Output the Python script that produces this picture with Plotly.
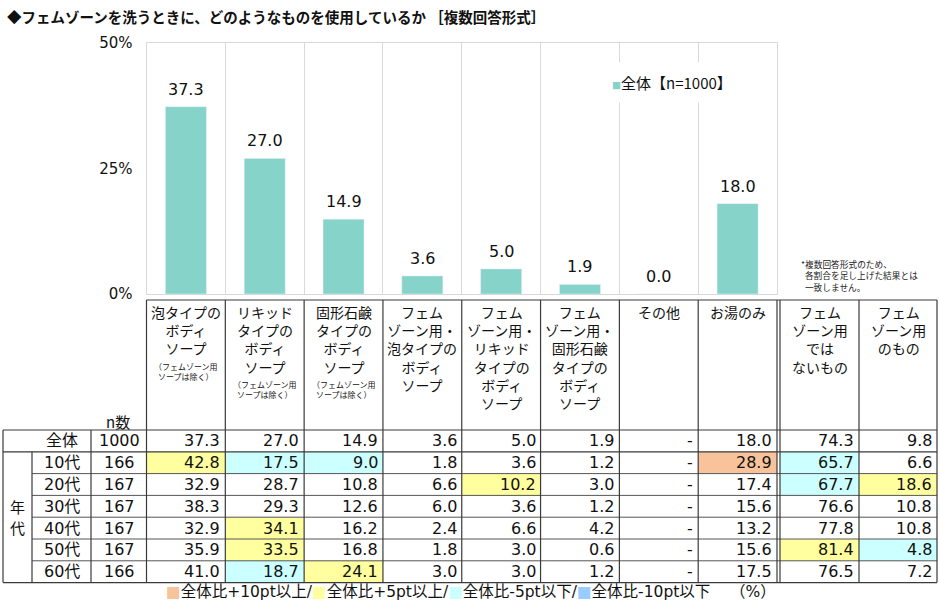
import plotly.graph_objects as go

# ---- data -------------------------------------------------------------
TITLE = "◆フェムゾーンを洗うときに、どのようなものを使用しているか ［複数回答形式］"

categories = [
    "泡タイプのボディソープ",
    "リキッドタイプのボディソープ",
    "固形石鹸タイプのボディソープ",
    "フェムゾーン用・泡タイプのボディソープ",
    "フェムゾーン用・リキッドタイプのボディソープ",
    "フェムゾーン用・固形石鹸タイプのボディソープ",
    "その他",
    "お湯のみ",
]
overall = [37.3, 27.0, 14.9, 3.6, 5.0, 1.9, 0.0, 18.0]
series_name = "全体【n=1000】"
y_ticks = [0, 25, 50]

header_main = [
    "泡タイプの<br>ボディ<br>ソープ",
    "リキッド<br>タイプの<br>ボディ<br>ソープ",
    "固形石鹸<br>タイプの<br>ボディ<br>ソープ",
    "フェム<br>ゾーン用・<br>泡タイプの<br>ボディ<br>ソープ",
    "フェム<br>ゾーン用・<br>リキッド<br>タイプの<br>ボディ<br>ソープ",
    "フェム<br>ゾーン用・<br>固形石鹸<br>タイプの<br>ボディ<br>ソープ",
    "その他",
    "お湯のみ",
    "フェム<br>ゾーン用<br>では<br>ないもの",
    "フェム<br>ゾーン用<br>のもの",
]
header_note = ["（フェムゾーン用<br>ソープは除く）"] * 3 + [""] * 7

row_labels = ["全体", "10代", "20代", "30代", "40代", "50代", "60代"]
row_n = [1000, 166, 167, 167, 167, 167, 166]
table_values = [
    [37.3, 27.0, 14.9, 3.6, 5.0, 1.9, None, 18.0, 74.3, 9.8],
    [42.8, 17.5, 9.0, 1.8, 3.6, 1.2, None, 28.9, 65.7, 6.6],
    [32.9, 28.7, 10.8, 6.6, 10.2, 3.0, None, 17.4, 67.7, 18.6],
    [38.3, 29.3, 12.6, 6.0, 3.6, 1.2, None, 15.6, 76.6, 10.8],
    [32.9, 34.1, 16.2, 2.4, 6.6, 4.2, None, 13.2, 77.8, 10.8],
    [35.9, 33.5, 16.8, 1.8, 3.0, 0.6, None, 15.6, 81.4, 4.8],
    [41.0, 18.7, 24.1, 3.0, 3.0, 1.2, None, 17.5, 76.5, 7.2],
]
group_label = ["年", "代"]
note = "*複数回答形式のため、<br>\u00a0\u00a0各割合を足し上げた結果とは<br>\u00a0\u00a0一致しません。"

key_labels = ["全体比+10pt以上", "全体比+5pt以上", "全体比-5pt以下", "全体比-10pt以下"]

# ---- style ------------------------------------------------------------
JP = "Noto Sans CJK JP"
NUM = "DejaVu Sans, Noto Sans CJK JP"
BAR = "#85D3C9"
GRID = "#D9D9D9"
EDGE = "#3A3A3A"
KEY_COLORS = ["#F8C39B", "#FFFF9F", "#CCFFFF", "#99CCFF"]

W, H = 940, 602
PLOT_L, PLOT_R, PLOT_T, PLOT_B = 146.5, 777, 43, 294
HEAD_T, TABLE_T, ROW_H = 300, 430, 21.8
TBL_L, AGE_R, LAB_R = 3, 32, 91
EXTRA = [780, 859, 937]


def highlight(v, base):
    if v is None or base is None:
        return None
    d = round(v - base, 1)
    if d >= 10:
        return KEY_COLORS[0]
    if d >= 5:
        return KEY_COLORS[1]
    if d <= -10:
        return KEY_COLORS[3]
    if d <= -5:
        return KEY_COLORS[2]
    return None


fig = go.Figure()
fig.add_trace(go.Bar(
    x=categories, y=overall, name=series_name,
    marker_color=BAR, showlegend=False, hoverinfo="x+y",
))
# full-page pixel axes used to lay out the table
fig.add_trace(go.Scatter(x=[], y=[], xaxis="x2", yaxis="y2",
                         showlegend=False, hoverinfo="skip"))

ann = []
shapes = []

# bar value labels
for c, v in zip(categories, overall):
    ann.append(dict(x=c, y=v, xref="x", yref="y", text=f"{v:.1f}",
                    showarrow=False, yanchor="bottom", yshift=6,
                    font=dict(family=NUM, size=16, color="#111")))

# legend for the bar series
ann.append(dict(
    x=672, y=82, xref="x2", yref="y2", showarrow=False,
    text=f"<span style='color:{BAR};font-size:9px'>■</span>{series_name}",
    font=dict(family=JP, size=15, color="#111"),
    bgcolor="white", borderpad=9,
))

ann.append(dict(x=5, y=16, xref="x2", yref="y2", xanchor="left", showarrow=False,
                text=f"<b>{TITLE}</b>", font=dict(family=JP, size=14.5, color="#111")))

ann.append(dict(x=799, y=276, xref="x2", yref="y2", xanchor="left", align="left",
                showarrow=False, text=note, font=dict(family=JP, size=8.7, color="#222")))

# ---- table geometry -----------------------------------------------------
n_main = len(categories)
step = (PLOT_R - PLOT_L) / n_main
main_edges = [PLOT_L + i * step for i in range(n_main + 1)]
cells_x = list(zip(main_edges[:-1], main_edges[1:])) + list(zip(EXTRA[:-1], EXTRA[1:]))
row_edges = [TABLE_T + i * ROW_H for i in range(len(row_labels) + 1)]
TBL_R = EXTRA[-1]
TBL_B = row_edges[-1]

# highlighted cells
base = table_values[0]
for r, row in enumerate(table_values[1:], start=1):
    for j, v in enumerate(row):
        col = highlight(v, base[j])
        if col:
            x0, x1 = cells_x[j]
            shapes.append(dict(type="rect", xref="x2", yref="y2",
                               x0=x0, x1=x1, y0=row_edges[r], y1=row_edges[r + 1],
                               fillcolor=col, line_width=0, layer="above"))


def hline(y, x0, x1, color=EDGE, w=1.2):
    shapes.append(dict(type="line", xref="x2", yref="y2", x0=x0, x1=x1, y0=y, y1=y,
                       line=dict(color=color, width=w)))


def vline(x, y0, y1, color=EDGE, w=1.2):
    shapes.append(dict(type="line", xref="x2", yref="y2", x0=x, x1=x, y0=y0, y1=y1,
                       line=dict(color=color, width=w)))


hline(HEAD_T, PLOT_L, TBL_R)
hline(row_edges[0], TBL_L, TBL_R)
hline(row_edges[1], TBL_L, TBL_R)
for y in row_edges[2:-1]:
    hline(y, AGE_R, TBL_R, color="#555", w=1)
hline(TBL_B, TBL_L, TBL_R)

vline(TBL_L, row_edges[0], TBL_B)
vline(AGE_R, row_edges[1], TBL_B)
vline(LAB_R, row_edges[0], TBL_B)
for x in main_edges + EXTRA:
    vline(x, HEAD_T, TBL_B)

# header text
for j, (x0, x1) in enumerate(cells_x):
    cx = (x0 + x1) / 2
    ann.append(dict(x=cx, y=HEAD_T, xref="x2", yref="y2", yanchor="top",
                    showarrow=False, align="center", text=header_main[j],
                    font=dict(family=JP, size=14, color="#111")))
    if header_note[j]:
        nlines = header_main[j].count("<br>") + 1
        ann.append(dict(x=cx, y=HEAD_T + 4 + nlines * 18.2, xref="x2", yref="y2",
                        yanchor="top", showarrow=False, align="center",
                        text=header_note[j], font=dict(family=JP, size=8, color="#111")))

ann.append(dict(x=118, y=row_edges[0] - 9, xref="x2", yref="y2", showarrow=False,
                text="n数", font=dict(family=JP, size=15, color="#111")))

# body text
for r, (lab, n, row) in enumerate(zip(row_labels, row_n, table_values)):
    cy = (row_edges[r] + row_edges[r + 1]) / 2
    ann.append(dict(x=62, y=cy, xref="x2", yref="y2", showarrow=False, text=lab,
                    borderpad=0, font=dict(family=NUM, size=16, color="#111")))
    ann.append(dict(x=119, y=cy, xref="x2", yref="y2", showarrow=False, text=str(n),
                    borderpad=0, font=dict(family=NUM, size=16, color="#111")))
    for j, v in enumerate(row):
        ann.append(dict(x=cells_x[j][1] - 4, y=cy, xref="x2", yref="y2",
                        xanchor="right", showarrow=False, borderpad=0,
                        text="-" if v is None else f"{v:.1f}",
                        font=dict(family=NUM, size=16, color="#111")))

# vertical group label, one character per line
mid = (row_edges[1] + TBL_B) / 2
for k, ch in enumerate(group_label):
    ann.append(dict(x=17, y=mid + (k - 0.5) * 21, xref="x2", yref="y2",
                    showarrow=False, text=ch, borderpad=0,
                    font=dict(family=JP, size=15, color="#111")))

# colour key under the table
key_text = "/".join(f"<span style='color:{c}'>■</span>{t}"
                    for c, t in zip(KEY_COLORS, key_labels))
ann.append(dict(x=165, y=591.5, xref="x2", yref="y2", xanchor="left", showarrow=False,
                text=key_text, borderpad=0, font=dict(family=NUM, size=15.5, color="#111")))
ann.append(dict(x=777, y=591.5, xref="x2", yref="y2", xanchor="right", showarrow=False,
                text="（%）", borderpad=0, font=dict(family=NUM, size=15.5, color="#111")))

fig.update_layout(
    width=W, height=H,
    margin=dict(l=0, r=0, t=0, b=0, pad=0, autoexpand=False),
    paper_bgcolor="white", plot_bgcolor="rgba(0,0,0,0)",
    bargap=0.48,
    font=dict(family=JP, color="#111"),
    xaxis=dict(
        domain=[PLOT_L / W, PLOT_R / W], anchor="y", automargin=False,
        showticklabels=False, ticks="", tickson="boundaries",
        showgrid=True, gridcolor=GRID, gridwidth=1,
        showline=True, mirror=True, linecolor=GRID, linewidth=1,
        fixedrange=True,
    ),
    yaxis=dict(
        domain=[(H - PLOT_B) / H, (H - PLOT_T) / H], anchor="x", automargin=False,
        range=[0, 50], tickmode="array", tickvals=y_ticks,
        ticktext=[f"{t}%" for t in y_ticks],
        showgrid=False, zeroline=False,
        showline=True, mirror=True, linecolor=GRID, linewidth=1,
        ticklabelstandoff=10,
        tickfont=dict(family=NUM, size=15, color="#111"),
        fixedrange=True,
    ),
    xaxis2=dict(domain=[0, 1], range=[0, W], anchor="y2", visible=False,
                automargin=False, fixedrange=True),
    yaxis2=dict(domain=[0, 1], range=[H, 0], anchor="x2", visible=False,
                automargin=False, fixedrange=True),
    annotations=ann,
    shapes=shapes,
)

# the page's default 8px body margin would push the chart off the window
fig.write_html("out.html", config={"displayModeBar": False},
               post_script="document.body.style.margin = '0';")
